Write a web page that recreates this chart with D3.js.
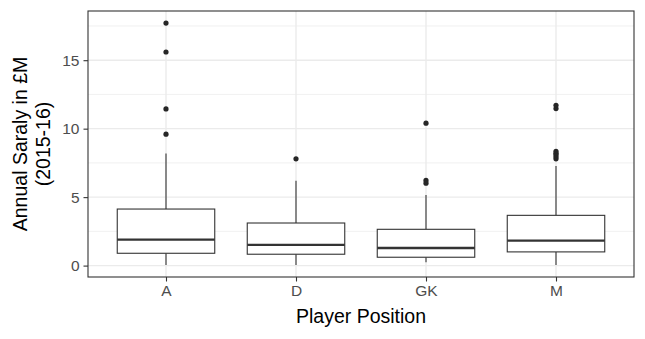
<!DOCTYPE html>
<html>
<head>
<meta charset="utf-8">
<script src="https://cdn.jsdelivr.net/npm/d3@7"></script>
<style>
  body { margin: 0; background: #fff; }
  text { font-family: "Liberation Sans", Arial, sans-serif; }
</style>
</head>
<body>
<div id="chart"></div>
<script>
// data
const positions = ["A", "D", "GK", "M"];
const whiskerLow = [0.05, 0.05, 0.25, 0.05];
const q1 = [0.90, 0.83, 0.61, 1.00];
const median = [1.90, 1.51, 1.29, 1.82];
const q3 = [4.13, 3.11, 2.65, 3.67];
const whiskerHigh = [8.19, 6.2, 5.15, 7.27];
const outliers = [
  [9.6, 11.44, 15.6, 17.71],
  [7.8],
  [6.02, 6.22, 10.4],
  [7.8, 7.95, 8.1, 8.2, 8.35, 11.47, 11.71]
];
const yTicks = [0, 5, 10, 15];
const yMinor = [2.5, 7.5, 12.5, 17.5];

const W = 645, H = 339;
const margin = { top: 11, right: 11, bottom: 62, left: 88 };
const width = W - margin.left - margin.right;
const height = H - margin.top - margin.bottom;

const boxes = positions.map((p, i) => ({
  pos: p,
  lo: whiskerLow[i], q1: q1[i], med: median[i], q3: q3[i], hi: whiskerHigh[i],
  out: outliers[i]
}));

// ggplot style 5% expansion
const allVals = boxes.flatMap(b => [b.lo, b.hi, ...b.out]);
const vmin = d3.min(allVals), vmax = d3.max(allVals);
const pad = (vmax - vmin) * 0.05;

const x = d3.scalePoint().domain(positions).range([0, width]).padding(0.6);
const y = d3.scaleLinear().domain([vmin - pad, vmax + pad]).range([height, 0]);
const boxW = x.step() * 0.75;

const svg = d3.select("#chart")
  .append("svg")
  .attr("width", W)
  .attr("height", H)
  .append("g")
  .attr("transform", `translate(${margin.left},${margin.top})`);

// grid
svg.selectAll(".minor")
  .data(yMinor.filter(v => y(v) > 0))
  .enter().append("line")
  .attr("x1", 0).attr("x2", width)
  .attr("y1", d => y(d)).attr("y2", d => y(d))
  .attr("stroke", "#ebebeb").attr("stroke-width", 0.7);

svg.selectAll(".major")
  .data(yTicks)
  .enter().append("line")
  .attr("x1", 0).attr("x2", width)
  .attr("y1", d => y(d)).attr("y2", d => y(d))
  .attr("stroke", "#ebebeb").attr("stroke-width", 1.4);

svg.selectAll(".vmajor")
  .data(positions)
  .enter().append("line")
  .attr("x1", d => x(d)).attr("x2", d => x(d))
  .attr("y1", 0).attr("y2", height)
  .attr("stroke", "#ebebeb").attr("stroke-width", 1.4);

// boxplots
const g = svg.selectAll(".box")
  .data(boxes)
  .enter().append("g")
  .attr("transform", d => `translate(${x(d.pos)},0)`);

g.append("line")
  .attr("x1", 0).attr("x2", 0)
  .attr("y1", d => y(d.q3)).attr("y2", d => y(d.hi))
  .attr("stroke", "#333").attr("stroke-width", 1.1);

g.append("line")
  .attr("x1", 0).attr("x2", 0)
  .attr("y1", d => y(d.q1)).attr("y2", d => y(d.lo))
  .attr("stroke", "#333").attr("stroke-width", 1.1);

g.append("rect")
  .attr("x", -boxW / 2)
  .attr("width", boxW)
  .attr("y", d => y(d.q3))
  .attr("height", d => y(d.q1) - y(d.q3))
  .attr("fill", "#fff")
  .attr("stroke", "#333").attr("stroke-width", 1.1);

g.append("line")
  .attr("x1", -boxW / 2).attr("x2", boxW / 2)
  .attr("y1", d => y(d.med)).attr("y2", d => y(d.med))
  .attr("stroke", "#333").attr("stroke-width", 2.4);

g.selectAll("circle")
  .data(d => d.out)
  .enter().append("circle")
  .attr("cx", 0)
  .attr("cy", d => y(d))
  .attr("r", 2.6)
  .attr("fill", "#262626");

// panel border
svg.append("rect")
  .attr("width", width).attr("height", height)
  .attr("fill", "none")
  .attr("stroke", "#333").attr("stroke-width", 1.1);

// axes
const yAxis = svg.append("g")
  .call(d3.axisLeft(y).tickValues(yTicks).tickSize(4.5).tickPadding(4));
const xAxis = svg.append("g")
  .attr("transform", `translate(0,${height})`)
  .call(d3.axisBottom(x).tickSize(4.5).tickPadding(3));

[yAxis, xAxis].forEach(a => {
  a.select(".domain").remove();
  a.selectAll(".tick line").attr("stroke", "#333").attr("stroke-width", 1.1);
  a.selectAll(".tick text")
    .attr("fill", "#4d4d4d")
    .style("font-size", "15.5px");
});

// titles
svg.append("text")
  .attr("x", width / 2)
  .attr("y", height + 46)
  .attr("text-anchor", "middle")
  .style("font-size", "19.5px")
  .attr("fill", "#000")
  .text("Player Position");

const yt = svg.append("text")
  .attr("transform", `translate(${-margin.left + 27},${height / 2}) rotate(-90)`)
  .attr("text-anchor", "middle")
  .style("font-size", "19.5px")
  .attr("fill", "#000");
yt.append("tspan").attr("x", 0).attr("dy", 0).text("Annual Saraly in £M");
yt.append("tspan").attr("x", 0).attr("dy", 22.5).text("(2015-16)");
</script>
</body>
</html>
